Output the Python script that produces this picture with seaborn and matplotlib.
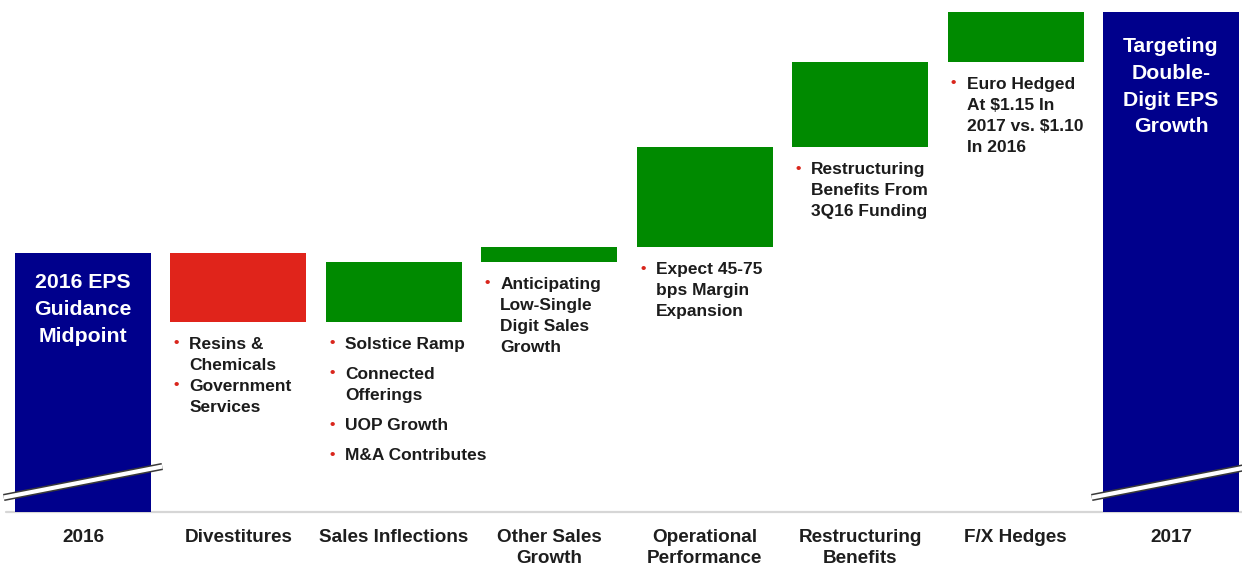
import matplotlib
matplotlib.use("Agg")
import matplotlib.pyplot as plt
import numpy as np
import pandas as pd
import seaborn as sns

# ---- data -------------------------------------------------------------
categories = ["2016", "Divestitures", "Sales Inflections", "Other Sales\nGrowth",
              "Operational\nPerformance", "Restructuring\nBenefits", "F/X Hedges", "2017"]
start_value = 259                       # 2016 EPS guidance midpoint (broken axis units)
step_changes = [-69, 60, 15, 100, 85, 50]
end_value = start_value + sum(step_changes)

bar_text = {
    "2016": ["2016 EPS", "Guidance", "Midpoint"],
    "2017": ["Targeting", "Double-", "Digit EPS", "Growth"],
}
notes = {
    "Divestitures": ["Resins &\nChemicals", "Government\nServices"],
    "Sales Inflections": ["Solstice Ramp", "Connected\nOfferings", "UOP Growth", "M&A Contributes"],
    "Other Sales\nGrowth": ["Anticipating\nLow-Single\nDigit Sales\nGrowth"],
    "Operational\nPerformance": ["Expect 45-75\nbps Margin\nExpansion"],
    "Restructuring\nBenefits": ["Restructuring\nBenefits From\n3Q16 Funding"],
    "F/X Hedges": ["Euro Hedged\nAt $1.15 In\n2017 vs. $1.10\nIn 2016"],
}

# ---- waterfall geometry from the data ----------------------------------
heights = [start_value] + step_changes + [end_value]
running = np.cumsum([start_value] + step_changes)
bottoms = [0] + list(running[:-1]) + [0]
kinds = ["total"] + ["up" if s > 0 else "down" for s in step_changes] + ["total"]
palette = {"total": "#00008c", "up": "#008a00", "down": "#e0241b"}

df = pd.DataFrame({"category": categories, "height": heights})

# ---- figure ------------------------------------------------------------
sns.set_theme(style="white")
plt.rcParams["font.family"] = ["Liberation Sans", "DejaVu Sans"]
plt.rcParams["font.weight"] = "bold"

W, H = 1242, 565
fig = plt.figure(figsize=(W / 100, H / 100), dpi=100)
base_px = 512                     # baseline row in pixels from top
ax = fig.add_axes([0, (H - base_px) / H, 1, base_px / H])

sns.barplot(data=df, x="category", y="height", order=categories, bottom=bottoms,
            width=0.875, linewidth=0, saturation=1, color="#00008c", ax=ax, zorder=3)
for patch, kind in zip(ax.patches, kinds):
    patch.set_facecolor(palette[kind])
    patch.set_edgecolor("none")

slot = 155.43                     # pixels per category
first_center = 83
ax.set_xlim(-first_center / slot, 7 + (W - (first_center + 7 * slot)) / slot)
ax.set_ylim(0, base_px)

# baseline
ax.plot([-first_center / slot + 6 / slot, 8], [0, 0], color="#d6d6d6", lw=1.6,
        zorder=1, clip_on=False)

sns.despine(ax=ax, left=True, bottom=True)
ax.set_yticks([])
ax.set_xlabel("")
ax.set_ylabel("")
ax.tick_params(axis="x", length=0, pad=12.5)
for lab in ax.get_xticklabels():
    lab.set_fontsize(13.6)
    lab.set_fontweight("bold")
    lab.set_color("#1e1e1e")
    lab.set_linespacing(1.3)

# axis-break marks on the two total bars
half = 0.51
for idx in (0, 7):
    xs = np.array([idx - half, idx + half])
    ys = np.array([30 - 15.5, 30 + 15.5])
    ax.plot(xs, ys, color="#3a3a3a", lw=5.2, solid_capstyle="butt", zorder=5, clip_on=False)
    ax.plot(xs, ys, color="white", lw=3.0, solid_capstyle="butt", zorder=6, clip_on=False)

# text inside the total bars
first_line_gap = {"2016": 30, "2017": 35}
for label, lines in bar_text.items():
    idx = categories.index(label)
    top = bottoms[idx] + heights[idx]
    for k, line in enumerate(lines):
        ax.text(idx, top - first_line_gap[label] - 26.5 * k, line, ha="center", va="center",
                color="white", fontsize=15.3, fontweight="bold", zorder=7)

# bullet notes under each floating bar
line_h = 21.0
item_gap = {"Sales Inflections": 9.0}
half_w = 0.875 / 2
for label, items in notes.items():
    idx = categories.index(label)
    low = min(bottoms[idx], bottoms[idx] + heights[idx])
    y = low - 22.5
    x_left = idx - half_w
    for item in items:
        ax.text(x_left + 6 / slot, y + 1, "\u2022", ha="center", va="center",
                color="#d9261c", fontsize=11, zorder=7)
        for line in item.split("\n"):
            ax.text(x_left + 19 / slot, y, line, ha="left", va="center",
                    color="#1c1c1c", fontsize=12.5, fontweight="bold", zorder=7)
            y -= line_h
        y -= item_gap.get(label, 0.0)

fig.savefig("out.png", dpi=100)
